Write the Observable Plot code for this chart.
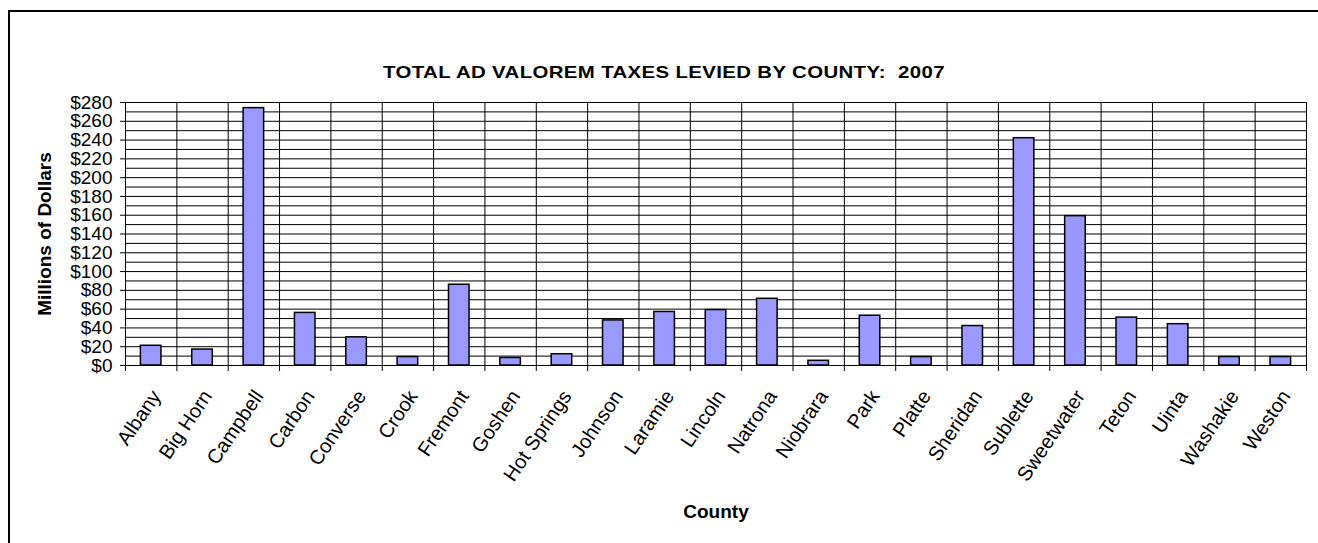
<!DOCTYPE html>
<html>
<head>
<meta charset="utf-8">
<script src="https://cdn.jsdelivr.net/npm/d3@7"></script>
<script src="https://cdn.jsdelivr.net/npm/@observablehq/plot@0.6"></script>
<style>
  html, body { margin: 0; padding: 0; background: #fff; overflow: hidden; }
  #wrap { position: relative; width: 1318px; height: 543px; overflow: hidden; font-family: "Liberation Sans", Arial, sans-serif; }
  #border { position: absolute; left: 8px; top: 10px; width: 1340px; height: 560px; border: 2px solid #000; box-sizing: border-box; }
  #title { position: absolute; left: 0; width: 1328px; top: 63px; text-align: center; font-weight: bold; font-size: 17px; letter-spacing: 0.3px; white-space: pre; transform: scaleX(1.2); transform-origin: 664px 0; }
  #chart { position: absolute; left: 0; top: 0; }
</style>
</head>
<body>
<div id="wrap">
  <div id="border"></div>
  <div id="title">TOTAL AD VALOREM TAXES LEVIED BY COUNTY:  2007</div>
  <div id="chart"></div>
</div>
<script>
const counties = ["Albany","Big Horn","Campbell","Carbon","Converse","Crook","Fremont","Goshen","Hot Springs","Johnson","Laramie","Lincoln","Natrona","Niobrara","Park","Platte","Sheridan","Sublette","Sweetwater","Teton","Uinta","Washakie","Weston"];
const taxes = [21, 17, 274, 56, 30, 9, 86, 8, 12, 48, 57, 59, 71, 5, 53, 9, 42, 242, 159, 51, 44, 9, 9];
const yTickLabels = [0, 20, 40, 60, 80, 100, 120, 140, 160, 180, 200, 220, 240, 260, 280];
const yGridLines = [10, 20, 30, 40, 50, 60, 70, 80, 90, 100, 110, 120, 130, 140, 150, 160, 170, 180, 190, 200, 210, 220, 230, 240, 250, 260, 270];

const data = counties.map((c, i) => ({county: c, index: i, value: taxes[i]}));
const boundaries = d3.range(counties.length + 1);
const centers = counties.map((c, i) => i + 0.5);

const chart = Plot.plot({
  width: 1318,
  height: 543,
  marginLeft: 125,
  marginRight: 12,
  marginTop: 102,
  marginBottom: 178,
  style: {fontFamily: '"Liberation Sans", Arial, sans-serif', fontSize: "19px", color: "#000", background: "transparent"},
  x: {domain: [0, counties.length], label: null},
  y: {domain: [0, 280], label: null},
  marks: [
    Plot.ruleY(yGridLines, {stroke: "#000", strokeWidth: 1}),
    Plot.ruleX(boundaries, {stroke: "#000", strokeWidth: 1}),
    Plot.rectY(data, {x1: d => d.index + 0.3, x2: d => d.index + 0.7, y1: 0, y2: "value", fill: "#9999FF", stroke: "#000", strokeWidth: 1.5}),
    Plot.frame({stroke: "#000", strokeWidth: 1}),
    Plot.axisY({ticks: yTickLabels, tickFormat: d => "$" + d, tickSize: 5, tickPadding: 8, fontSize: 19, label: "Millions of Dollars", labelAnchor: "center", labelOffset: 88, labelArrow: "none"}),
    Plot.axisX({ticks: boundaries, tickFormat: () => "", tickSize: 6, label: null}),
    Plot.axisX({ticks: centers, tickFormat: v => counties[Math.floor(v)], tickSize: 0, tickPadding: 20, tickRotate: -56, fontSize: 20, dx: 5, dy: 7, label: null}),
    Plot.text(["County"], {frameAnchor: "bottom", dy: 152, text: d => d, fontWeight: "bold", fontSize: 19})
  ]
});
chart.querySelectorAll('g[aria-label="y-axis label"] text').forEach(t => { t.setAttribute("font-weight", "bold"); t.setAttribute("font-size", "19"); });
document.getElementById("chart").appendChild(chart);
</script>
</body>
</html>
